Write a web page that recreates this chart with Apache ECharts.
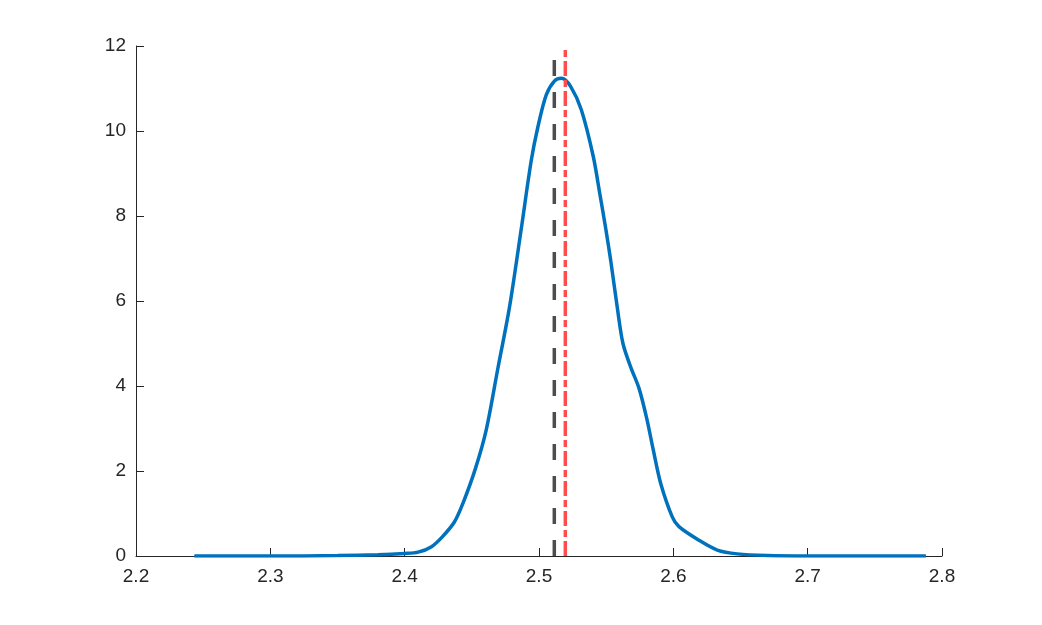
<!DOCTYPE html>
<html>
<head>
<meta charset="utf-8">
<title>density</title>
<script src="https://cdn.jsdelivr.net/npm/echarts@6/dist/echarts.min.js"></script>
<style>
  html, body { margin: 0; padding: 0; background: #fff; }
  #chart { width: 1042px; height: 625px; }
</style>
</head>
<body>
<div id="chart"></div>
<script>
// kernel density estimate
const densX = [2.2434, 2.30, 2.35, 2.38, 2.40, 2.41, 2.42, 2.428, 2.437, 2.4435, 2.4526, 2.4606,
  2.4693, 2.478, 2.4868, 2.4942, 2.4992, 2.5054, 2.5116, 2.5168, 2.5235, 2.5315, 2.5404,
  2.5454, 2.5497, 2.5534, 2.5583, 2.5625, 2.5682, 2.5744, 2.5801, 2.5851, 2.5905, 2.5992,
  2.6042, 2.6191, 2.6327, 2.6476, 2.67, 2.70, 2.788]
const densY = [0, 0, 0.01, 0.03, 0.06, 0.09, 0.22, 0.45, 0.8, 1.25, 2.05, 2.95,
  4.4, 5.85, 7.7, 9.3, 10.1, 10.85, 11.18, 11.24, 11.05, 10.5, 9.4,
  8.5, 7.7, 6.95, 5.84, 5.0, 4.45, 3.95, 3.25, 2.49, 1.72, 0.92,
  0.69, 0.37, 0.14, 0.05, 0.01, 0, 0]

const meanX = 2.5114    // black dashed
const medianX = 2.5196  // red dash-dot
const lineTop = 12

const xTicks = [2.2, 2.8, 0.1]
const yTicks = [0, 12, 2]

const labelFont = {
	fontFamily: 'Liberation Sans, Arial, sans-serif',
	fontSize: 19,
	color: '#262626'
}

const chartDom = echarts.init(document.getElementById('chart'))
const option = {
	animation: false,
	grid: {
		left: 136,
		right: 100,
		top: 46,
		bottom: 69
	},
	xAxis: {
		type: 'value',
		min: xTicks[0],
		max: xTicks[1],
		interval: xTicks[2],
		splitLine: { show: false },
		axisLine: { lineStyle: { color: '#262626', width: 1 } },
		axisTick: { inside: true, length: 8, lineStyle: { color: '#262626' } },
		axisLabel: {
			...labelFont,
			margin: 11,
			formatter: v => v.toFixed(1)
		}
	},
	yAxis: {
		type: 'value',
		min: yTicks[0],
		max: yTicks[1],
		interval: yTicks[2],
		splitLine: { show: false },
		axisLine: { show: true, lineStyle: { color: '#262626', width: 1 } },
		axisTick: { show: true, inside: true, length: 8, lineStyle: { color: '#262626' } },
		axisLabel: { ...labelFont, margin: 10 }
	},
	series: [
		{
			type: 'line',
			data: densX.map((x, i) => [x, densY[i]]),
			smooth: 0.3,
			showSymbol: false,
			lineStyle: { color: '#0072BD', width: 3.5 },
			z: 2
		},
		{
			type: 'line',
			data: [[meanX, 0], [meanX, lineTop]],
			showSymbol: false,
			lineStyle: { color: '#4d4d4d', width: 3.5, type: [16, 16] },
			z: 3
		},
		{
			type: 'line',
			data: [[medianX, 0], [medianX, lineTop]],
			showSymbol: false,
			lineStyle: { color: '#ff4d4d', width: 3.5, type: [15, 4, 7, 4] },
			z: 4
		}
	]
}
chartDom.setOption(option, true)
</script>
</body>
</html>
